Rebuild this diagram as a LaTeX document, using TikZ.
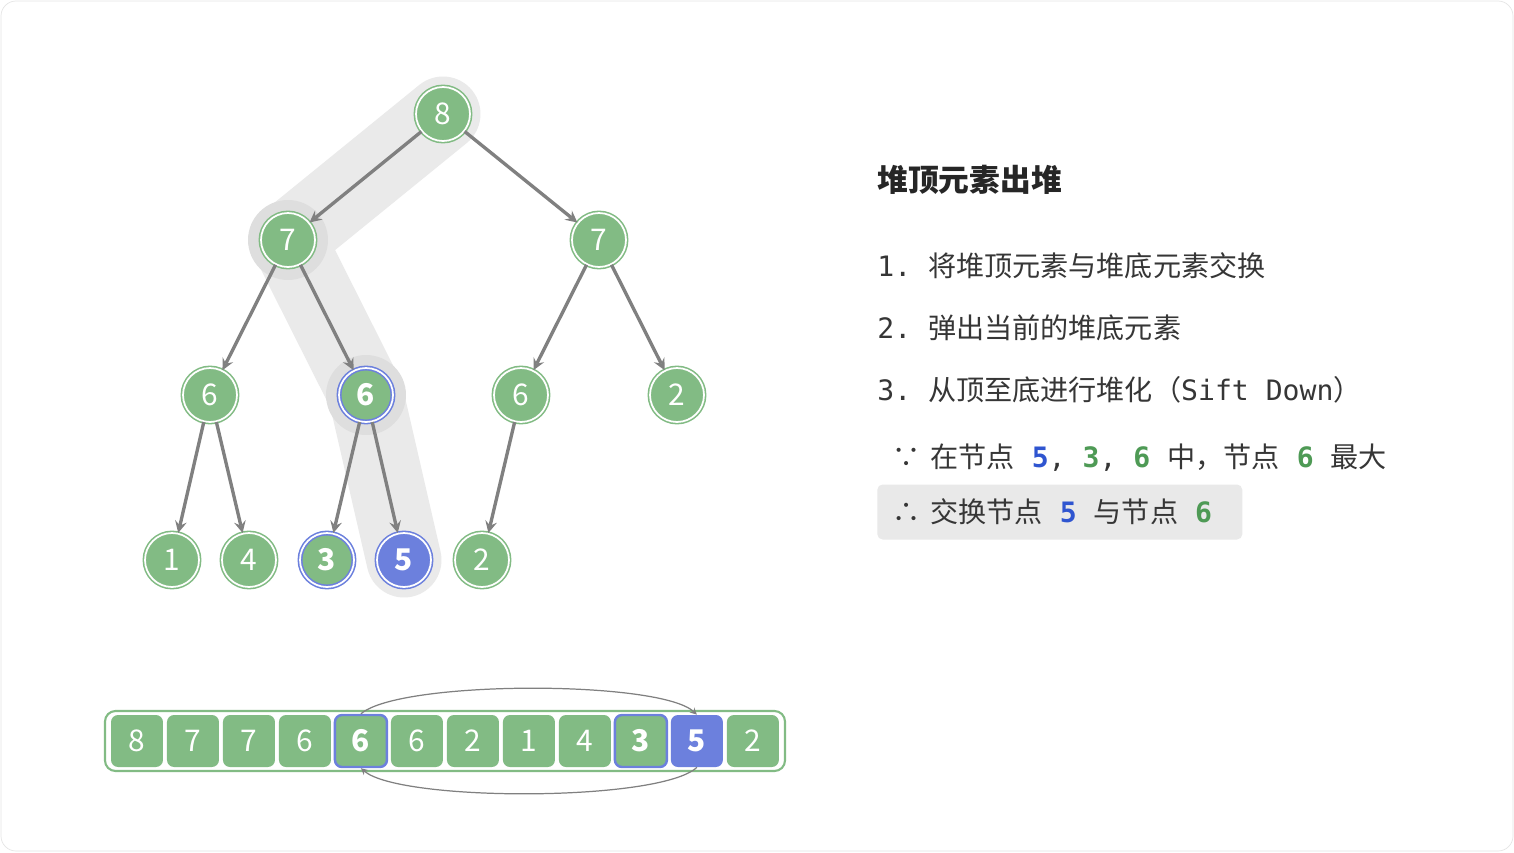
\documentclass[tikz,border=0pt]{standalone}
\usepackage{fontspec}
\setmainfont{Noto Sans CJK SC}
\newfontfamily\monofont{DejaVu Sans Mono}
\usepackage{tikz}
\usetikzlibrary{positioning,arrows,backgrounds}
\definecolor{nodegreen}{HTML}{82BB84}
\definecolor{nodeblue}{HTML}{6C80DD}
\definecolor{edgegray}{HTML}{808080}
\definecolor{bandgray}{HTML}{EAEAEA}
\definecolor{ringgray}{HTML}{DEDEDE}
\definecolor{textgray}{HTML}{363636}
\definecolor{numblue}{HTML}{2F55D0}
\definecolor{numgreen}{HTML}{4E9A55}
\definecolor{boxgray}{HTML}{E9E9E9}
\newcommand\heapfont{\fontsize{17}{20}\selectfont}
\newcommand\stepfont{\fontsize{16}{19}\selectfont}
\newcommand\gap{\hspace{0.34cm}}
\tikzstyle{heapnode} = [circle, minimum size=1.08cm, inner sep=0pt, fill=nodegreen, draw=nodegreen, line width=0.9pt, double=white, double distance=1pt, text=white, font=\heapfont]
\tikzstyle{pickednode} = [heapnode, draw=nodeblue, font=\heapfont\bfseries]
\tikzstyle{movednode} = [pickednode, fill=nodeblue]
\tikzstyle{cell} = [rectangle, rounded corners=4pt, minimum size=1.04cm, inner sep=0pt, fill=nodegreen, text=white, font=\heapfont]
\tikzstyle{pickedcell} = [cell, draw=nodeblue, line width=1.4pt, font=\heapfont\bfseries]
\tikzstyle{movedcell} = [cell, fill=nodeblue, font=\heapfont\bfseries]
\tikzstyle{treearrow} = [line width=1.9pt, draw=edgegray, ->, >=stealth]
\tikzstyle{swaparrow} = [line width=0.7pt, draw=edgegray, ->, >=stealth]
\tikzstyle{band} = [line width=1.5cm, draw=bandgray, line cap=round, line join=round]
\tikzstyle{steptext} = [anchor=west, inner sep=0pt, text=textgray, font=\stepfont]
\tikzstyle{notebox} = [anchor=west, fill=boxgray, rounded corners=3pt, minimum height=1.1cm, inner xsep=0.3cm, text width=6.7cm, align=left, text=textgray, font=\stepfont]

\begin{document}
\begin{tikzpicture}[x=0.02cm, y=-0.02cm, node distance=1.12cm]
\useasboundingbox (0,0) rectangle (1514,852);

\node (top) [heapnode] at (443,114) {8};
\node (left7) [heapnode] at (288,240) {7};
\node (right7) [heapnode] at (599,240) {7};
\node (left6) [heapnode] at (210,395) {6};
\node (mid6) [pickednode] at (366,395) {6};
\node (right6) [heapnode] at (521,395) {6};
\node (right2) [heapnode] at (677,395) {2};
\node (leaf1) [heapnode] at (172,560) {1};
\node (leaf4) [heapnode] at (249,560) {4};
\node (leaf3) [pickednode] at (327,560) {3};
\node (leaf5) [movednode] at (404,560) {5};
\node (leaf2) [heapnode] at (482,560) {2};

\begin{scope}[on background layer]
\draw [draw=black!10, fill=white, rounded corners=0.3cm] (1,1) rectangle (1513,851);
\draw [band] (top.center) -- (left7.center) -- (mid6.center) -- (leaf5.center);
\fill [ringgray] (left7) circle (0.8cm);
\fill [ringgray] (mid6) circle (0.8cm);
\end{scope}

\draw [treearrow] (top) -- (left7);
\draw [treearrow] (top) -- (right7);
\draw [treearrow] (left7) -- (left6);
\draw [treearrow] (left7) -- (mid6);
\draw [treearrow] (right7) -- (right6);
\draw [treearrow] (right7) -- (right2);
\draw [treearrow] (left6) -- (leaf1);
\draw [treearrow] (left6) -- (leaf4);
\draw [treearrow] (mid6) -- (leaf3);
\draw [treearrow] (mid6) -- (leaf5);
\draw [treearrow] (right6) -- (leaf2);

\draw [draw=nodegreen, line width=1.2pt, fill=white, rounded corners=6pt] (105,711) rectangle (785,771);
\node (a0) [cell] at (137,741) {8};
\node (a1) [cell, right of=a0] {7};
\node (a2) [cell, right of=a1] {7};
\node (a3) [cell, right of=a2] {6};
\node (a4) [pickedcell, right of=a3] {6};
\node (a5) [cell, right of=a4] {6};
\node (a6) [cell, right of=a5] {2};
\node (a7) [cell, right of=a6] {1};
\node (a8) [cell, right of=a7] {4};
\node (a9) [pickedcell, right of=a8] {3};
\node (a10) [movedcell, right of=a9] {5};
\node (a11) [cell, right of=a10] {2};

\draw [swaparrow] (a4.north) .. controls (400,680) and (660,680) .. (a10.north);
\draw [swaparrow] (a10.south) .. controls (660,802) and (400,802) .. (a4.south);

\node (title) [anchor=west, inner sep=0pt, text=black!85, font=\fontsize{17.5}{20}\selectfont\bfseries] at (877,180) {堆顶元素出堆};
\node (step1) [steptext] at (877,266) {{\monofont 1.}\gap 将堆顶元素与堆底元素交换};
\node (step2) [steptext] at (877,328) {{\monofont 2.}\gap 弹出当前的堆底元素};
\node (step3) [steptext] at (877,390) {{\monofont 3.}\gap 从顶至底进行堆化（{\monofont Sift Down}）};
\node (because) [steptext] at (892,458) {∵\hspace{0.2cm}在节点\gap{\monofont\textcolor{numblue}{\bfseries 5},\gap\textcolor{numgreen}{\bfseries 3},\gap\textcolor{numgreen}{\bfseries 6}}\gap 中，节点\gap{\monofont\textcolor{numgreen}{\bfseries 6}}\gap 最大};
\node (swapnote) [notebox] at (877,512) {∴\hspace{0.2cm}交换节点\gap{\monofont\textcolor{numblue}{\bfseries 5}}\gap 与节点\gap{\monofont\textcolor{numgreen}{\bfseries 6}}};
\end{tikzpicture}
\end{document}
